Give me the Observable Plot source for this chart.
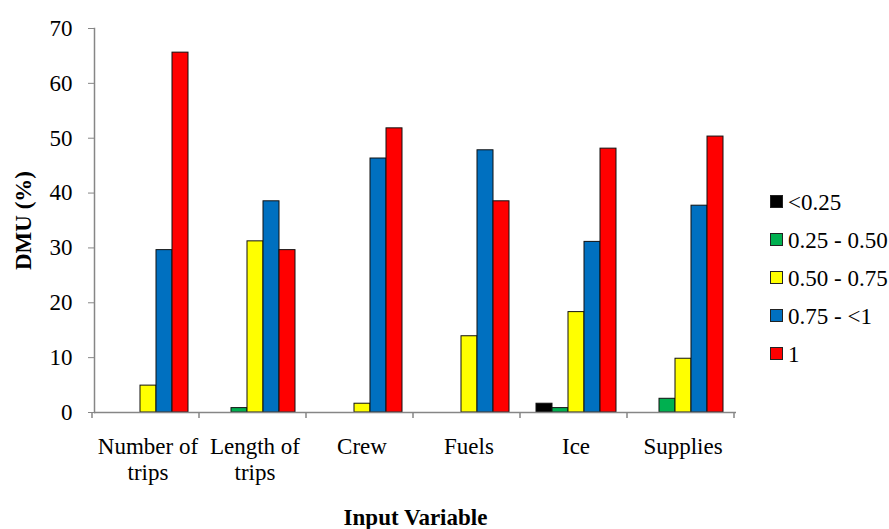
<!DOCTYPE html>
<html>
<head>
<meta charset="utf-8">
<script src="https://cdn.jsdelivr.net/npm/d3@7"></script>
<script src="https://cdn.jsdelivr.net/npm/@observablehq/plot@0.6"></script>
<style>
  html, body { margin: 0; padding: 0; background: #fff; }
  #wrap { position: relative; width: 889px; height: 529px; font-family: "Liberation Serif", "Times New Roman", serif; }
  #wrap svg g[aria-label="y-axis label"] text,
  #wrap svg g[aria-label="fx-axis label"] text { font-weight: bold; }
  .legend { position: absolute; left: 770px; top: 184px; font-size: 23px; color: #000; }
  .legend .item { display: flex; align-items: center; height: 37.9px; white-space: nowrap; }
  .legend .sw { width: 11px; height: 11px; border: 1px solid #222; margin-right: 5px; margin-top: -2px; box-sizing: content-box; }
</style>
</head>
<body>
<div id="wrap"></div>
<script>
// ---- data ----
const categories = ["Number of trips", "Length of trips", "Crew", "Fuels", "Ice", "Supplies"];
const seriesNames = ["<0.25", "0.25 - 0.50", "0.50 - 0.75", "0.75 - <1", "1"];
const seriesColors = ["#000000", "#00B050", "#FFFF00", "#0070C0", "#FF0000"];
const valuesBelow025 = [0, 0, 0, 0, 1.6, 0];
const values025to050 = [0, 0.8, 0, 0, 0.8, 2.5];
const values050to075 = [4.9, 31.2, 1.6, 13.9, 18.3, 9.8];
const values075toBelow1 = [29.6, 38.5, 46.3, 47.8, 31.1, 37.7];
const values1 = [65.6, 29.6, 51.8, 38.5, 48.1, 50.3];
const yTicks = [0, 10, 20, 30, 40, 50, 60, 70];

const seriesValues = [valuesBelow025, values025to050, values050to075, values075toBelow1, values1];
const data = [];
seriesNames.forEach((s, i) => categories.forEach((c, j) => data.push({category: c, series: s, value: seriesValues[i][j]})));

const font = "'Liberation Serif', 'Times New Roman', serif";
const chart = Plot.plot({
  width: 889,
  height: 529,
  marginLeft: 92,
  marginRight: 151,
  marginTop: 28,
  marginBottom: 117,
  style: {fontFamily: font, fontSize: "23px", color: "#000", background: "#fff"},
  fx: {domain: categories, paddingInner: 0, paddingOuter: 0, label: "Input Variable"},
  x: {domain: seriesNames, axis: null, paddingInner: 0, paddingOuter: 0.74},
  y: {domain: [0, 70], label: "DMU (%)"},
  color: {domain: seriesNames, range: seriesColors},
  marks: [
    Plot.barY(data.filter(d => d.value > 0), {fx: "category", x: "series", y: "value", fill: "series", stroke: "#111", strokeWidth: 1}),
    Plot.ruleY([0], {stroke: "#868686", strokeWidth: 1.5}),
    Plot.frame({anchor: "left", facetAnchor: "left", stroke: "#868686", strokeWidth: 1.5}),
    Plot.axisY({ticks: yTicks, tickSize: 6, tickPadding: 16, stroke: "#868686", fill: "#000", fontSize: 23,
      label: "DMU (%)", labelAnchor: "center", labelArrow: "none", labelOffset: 80}),
    Plot.axisFx({anchor: "bottom", tickSize: 0, tickPadding: 24, fontSize: 23, lineHeight: 1.1,
      tickFormat: d => d.replace(" of ", " of\n"),
      label: "Input Variable", labelAnchor: "center", labelArrow: "none", labelOffset: 112})
  ]
});

// group boundary ticks on the x axis, placed with the chart's own scales
const fx = chart.scale("fx");
const y0 = chart.scale("y").apply(0);
const svg = d3.select(chart);
const g = svg.append("g").attr("aria-label", "fx boundary ticks").attr("stroke", "#868686").attr("stroke-width", 1.5);
for (let i = 0; i <= categories.length; i++) {
  const xp = fx.range[0] + i * fx.step;
  g.append("line").attr("x1", xp).attr("x2", xp).attr("y1", y0).attr("y2", y0 + 6);
}

const wrap = document.getElementById("wrap");
wrap.appendChild(chart);

// legend
const legend = document.createElement("div");
legend.className = "legend";
seriesNames.forEach((s, i) => {
  const item = document.createElement("div");
  item.className = "item";
  const sw = document.createElement("span");
  sw.className = "sw";
  sw.style.background = seriesColors[i];
  const t = document.createElement("span");
  t.textContent = s;
  item.appendChild(sw);
  item.appendChild(t);
  legend.appendChild(item);
});
wrap.appendChild(legend);
</script>
</body>
</html>
